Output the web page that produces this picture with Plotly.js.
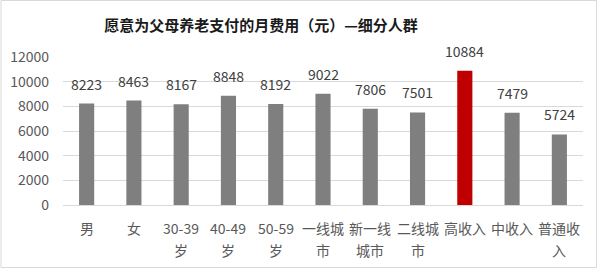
<!DOCTYPE html>
<html><head><meta charset="utf-8">
<script src="https://cdn.plot.ly/plotly-3.0.1.min.js"></script>
<style>html,body{margin:0;padding:0;background:#fff}#c{width:599px;height:271px}</style>
</head><body><div id="c"></div>
<script>
const categories = ["男","女","30-39<br>岁","40-49<br>岁","50-59<br>岁","一线城<br>市","新一线<br>城市","二线城<br>市","高收入","中收入","普通收<br>入"];
const values = [8223,8463,8167,8848,8192,9022,7806,7501,10884,7479,5724];
const highlight = "高收入";
const titleText = "愿意为父母养老支付的月费用（元）—细分人群";
const yTicks = [0,2000,4000,6000,8000,10000,12000];

const W = 599, H = 271;
const M = {l: 63, r: 16, t: 57, b: 66};
const pw = W - M.l - M.r, ph = H - M.t - M.b;
const font = '"Noto Sans CJK SC", "Microsoft YaHei", sans-serif';
const idx = categories.map((_, i) => i);
const colors = categories.map(c => c === highlight ? "#c00000" : "#7f7f7f");

const trace = {
  type: "bar", x: idx, y: values,
  marker: {color: colors},
  hoverinfo: "none"
};
const annotations = values.map((v, i) => ({
  x: i, y: v, xref: "x", yref: "y", text: String(v), showarrow: false,
  yanchor: "bottom", yshift: 8, font: {family: font, size: 14, color: "#404040"}
}));
// category labels, one annotation per line, to match the wider line spacing
categories.forEach((c, i) => {
  c.split("<br>").forEach((line, k) => {
    annotations.push({
      x: i, y: 0, xref: "x", yref: "y", text: line, showarrow: false,
      yanchor: "middle", yshift: -(23 + 22 * k),
      font: {family: font, size: 14, color: "#595959"}
    });
  });
});
const layout = {
  width: W, height: H,
  margin: M,
  paper_bgcolor: "#fff", plot_bgcolor: "#fff",
  showlegend: false,
  bargap: 0.68,
  title: {text: "<b>" + titleText + "</b>", x: 261 / W, xanchor: "center", y: 1 - 26 / H, yanchor: "middle",
          font: {family: font, size: 15, color: "#1a1a1a"}},
  xaxis: {
    tickmode: "array", tickvals: idx, ticktext: categories.map(() => ""),
    range: [-0.5, categories.length - 0.5],
    showgrid: false, zeroline: false, showline: false, ticks: "",
    showticklabels: false, fixedrange: true
  },
  yaxis: {
    range: [0, 12000], tickmode: "array", tickvals: yTicks, ticktext: yTicks.map(String),
    showgrid: true, gridcolor: "#d9d9d9", gridwidth: 1, zeroline: true, zerolinecolor: "#d9d9d9",
    showline: false, ticks: "",
    tickfont: {family: font, size: 14, color: "#595959"},
    ticklabelstandoff: 13, fixedrange: true
  },
  annotations: annotations,
  shapes: [{
    type: "rect", xref: "paper", yref: "paper", layer: "above",
    x0: (1 - M.l) / pw, x1: (596.5 - M.l) / pw,
    y0: (H - M.b - 267.5) / ph, y1: (H - M.b - 0.5) / ph,
    line: {color: "#d9d9d9", width: 1}, fillcolor: "rgba(0,0,0,0)"
  }]
};
Plotly.newPlot("c", [trace], layout, {staticPlot: true, displayModeBar: false});
</script></body></html>
